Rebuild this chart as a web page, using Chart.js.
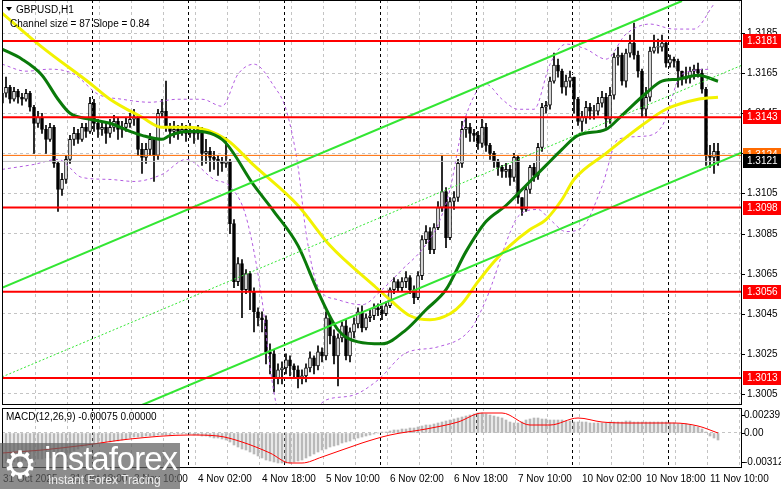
<!DOCTYPE html>
<html>
<head>
<meta charset="utf-8">
<script src="https://cdn.jsdelivr.net/npm/chart.js"></script>
<style>
  body { margin: 0; background: #fff; width: 781px; height: 489px; overflow: hidden; position: relative; font-family: "Liberation Sans", Arial, sans-serif; }
  #main { position: absolute; left: 0; top: 0; }
  #macd { position: absolute; left: 0; top: 406px; }
  #logo { position: absolute; left: 0; top: 443px; width: 180px; height: 46px; background: rgba(95,95,95,0.72); color: #fff; overflow: hidden; }
  #logo .gear { position: absolute; left: 3px; top: 0px; font-size: 38px; line-height: 44px; font-family: "DejaVu Sans"; }
  #logo .name { position: absolute; left: 44px; top: -3px; font-size: 33px; font-family: "Liberation Sans"; letter-spacing: -1px; }
  #logo .sub { position: absolute; left: 48px; top: 30px; font-size: 12px; color: #eee; }
</style>
</head>
<body>
<canvas id="main" width="781" height="406"></canvas>
<canvas id="macd" width="781" height="83"></canvas>
<div id="logo"><span class="gear">⚙</span><span class="name">instaforex</span><span class="sub">Instant Forex Tracing</span></div>
<script>
// GBPUSD H1, candle 0 = 31 Oct 01:00
const firstOpen = 1.3150;
const closes = [
  1.3155,1.3158,1.3152,1.3156,1.3153,1.3152,1.3155,1.3148,1.3140,1.3143,
  1.3137,1.3132,1.3138,1.3120,1.3107,1.3112,1.3122,1.3132,1.3135,1.3132,
  1.3138,1.3136,1.3150,1.3140,1.3137,1.3138,1.3135,1.3138,1.3141,1.3137,
  1.3138,1.3140,1.3142,1.3143,1.3127,1.3123,1.3127,1.3132,1.3124,1.3145,
  1.3146,1.3138,1.3136,1.3137,1.3136,1.3137,1.3135,1.3136,1.3135,1.3137,
  1.3125,1.3126,1.3123,1.3122,1.3121,1.3120,1.3121,1.3090,1.3061,1.3070,
  1.3057,1.3065,1.3056,1.3046,1.3043,1.3042,1.3026,1.3025,1.3013,1.3017,
  1.3018,1.3022,1.3019,1.3017,1.3013,1.3014,1.3018,1.3023,1.3019,1.3026,
  1.3024,1.3043,1.3034,1.3024,1.3033,1.3039,1.3024,1.3036,1.3040,1.3046,
  1.3038,1.3043,1.3044,1.3048,1.3047,1.3045,1.3049,1.3057,1.3061,1.3058,
  1.3061,1.3063,1.3057,1.3053,1.3064,1.3082,1.3086,1.3077,1.3088,1.3098,
  1.3106,1.3083,1.3101,1.3103,1.3120,1.3137,1.3138,1.3135,1.3134,1.3130,
  1.3138,1.3129,1.3125,1.3121,1.3118,1.3116,1.3117,1.3113,1.3123,1.3103,
  1.3097,1.3107,1.3118,1.3114,1.3128,1.3148,1.3149,1.3161,1.3169,1.3166,
  1.3158,1.3161,1.3163,1.3152,1.3141,1.3143,1.3148,1.3146,1.3146,1.3150,
  1.3153,1.3142,1.3154,1.3173,1.3174,1.3161,1.3175,1.3180,1.3174,1.3166,
  1.3147,1.3153,1.3176,1.3178,1.3178,1.3180,1.3170,1.3172,1.3171,1.3166,
  1.3162,1.3163,1.3166,1.3167,1.3165,1.3157,1.3124,1.3123,1.3126,1.3121
];
const highs = [
  1.3160,1.3163,1.3159,1.3158,1.3157,1.3155,1.3157,1.3156,1.3149,1.3146,
  1.3145,1.3139,1.3140,1.3139,1.3121,1.3115,1.3124,1.3134,1.3138,1.3137,
  1.3140,1.3140,1.3153,1.3152,1.3142,1.3141,1.3140,1.3142,1.3144,1.3143,
  1.3141,1.3143,1.3145,1.3147,1.3144,1.3130,1.3130,1.3135,1.3133,1.3147,
  1.3152,1.3161,1.3140,1.3141,1.3139,1.3140,1.3139,1.3140,1.3138,1.3139,
  1.3138,1.3132,1.3128,1.3126,1.3124,1.3123,1.3133,1.3122,1.3092,1.3073,
  1.3072,1.3067,1.3066,1.3058,1.3048,1.3046,1.3044,1.3030,1.3027,1.3020,
  1.3021,1.3025,1.3024,1.3020,1.3019,1.3017,1.3020,1.3026,1.3024,1.3029,
  1.3028,1.3046,1.3044,1.3037,1.3035,1.3041,1.3042,1.3038,1.3043,1.3048,
  1.3049,1.3045,1.3047,1.3050,1.3050,1.3049,1.3051,1.3058,1.3063,1.3062,
  1.3063,1.3066,1.3064,1.3059,1.3066,1.3084,1.3089,1.3088,1.3090,1.3101,
  1.3124,1.3108,1.3103,1.3106,1.3122,1.3141,1.3143,1.3140,1.3137,1.3136,
  1.3142,1.3140,1.3130,1.3126,1.3122,1.3119,1.3120,1.3119,1.3125,1.3124,
  1.3103,1.3109,1.3119,1.3120,1.3130,1.3150,1.3151,1.3163,1.3175,1.3172,
  1.3167,1.3164,1.3166,1.3163,1.3153,1.3146,1.3151,1.3150,1.3149,1.3153,
  1.3156,1.3155,1.3158,1.3175,1.3178,1.3175,1.3177,1.3184,1.3190,1.3176,
  1.3167,1.3158,1.3178,1.3184,1.3182,1.3184,1.3181,1.3174,1.3173,1.3172,
  1.3166,1.3168,1.3168,1.3169,1.3170,1.3167,1.3158,1.3129,1.3130,1.3130
];
const lows = [
  1.3148,1.3153,1.3150,1.3151,1.3150,1.3149,1.3151,1.3146,1.3125,1.3138,
  1.3135,1.3125,1.3131,1.3118,1.3096,1.3104,1.3110,1.3120,1.3129,1.3130,
  1.3131,1.3133,1.3135,1.3136,1.3133,1.3134,1.3130,1.3133,1.3136,1.3132,
  1.3133,1.3136,1.3138,1.3139,1.3124,1.3115,1.3120,1.3124,1.3111,1.3122,
  1.3143,1.3136,1.3130,1.3133,1.3132,1.3134,1.3131,1.3133,1.3130,1.3132,
  1.3119,1.3120,1.3116,1.3117,1.3114,1.3116,1.3118,1.3085,1.3058,1.3059,
  1.3043,1.3055,1.3047,1.3036,1.3039,1.3036,1.3020,1.3015,1.3006,1.3010,
  1.3010,1.3015,1.3014,1.3013,1.3008,1.3010,1.3011,1.3016,1.3015,1.3017,
  1.3021,1.3022,1.3030,1.3020,1.3009,1.3031,1.3022,1.3021,1.3033,1.3038,
  1.3036,1.3037,1.3041,1.3042,1.3044,1.3042,1.3044,1.3048,1.3055,1.3056,
  1.3056,1.3058,1.3055,1.3050,1.3052,1.3062,1.3080,1.3075,1.3075,1.3087,
  1.3096,1.3078,1.3082,1.3097,1.3101,1.3118,1.3133,1.3131,1.3131,1.3127,
  1.3128,1.3126,1.3122,1.3118,1.3114,1.3113,1.3113,1.3109,1.3111,1.3100,
  1.3094,1.3096,1.3105,1.3111,1.3112,1.3126,1.3145,1.3147,1.3160,1.3163,
  1.3155,1.3154,1.3158,1.3145,1.3139,1.3136,1.3140,1.3142,1.3142,1.3144,
  1.3148,1.3138,1.3140,1.3152,1.3169,1.3159,1.3158,1.3173,1.3172,1.3163,
  1.3143,1.3143,1.3151,1.3175,1.3175,1.3176,1.3168,1.3168,1.3168,1.3158,
  1.3159,1.3160,1.3160,1.3162,1.3163,1.3155,1.3119,1.3118,1.3115,1.3119
];

// moving averages (read at chosen candles)
const slowIdx = [0,10,22,27,35,40,47,56,63,74,82,93,97,102,107,112,115,119,123,127,132,136,140,143,151,160,166,174,179];
const slowVal = [1.3195,1.3178,1.3160,1.3152,1.3143,1.3138,1.3138,1.3132,1.3119,1.3099,1.3079,1.3059,1.3052,1.3044,1.3042,1.3045,1.3050,1.3061,1.3071,1.3079,1.3087,1.3092,1.3102,1.3112,1.3125,1.3139,1.3147,1.3152,1.3153];
const fastIdx = [0,5,10,14,17,22,27,32,35,40,42,47,55,63,68,74,79,84,89,95,101,106,111,116,121,126,131,136,140,144,151,155,161,165,169,174,179];
const fastVal = [1.3177,1.3172,1.3164,1.3152,1.3145,1.3142,1.3140,1.3136,1.3134,1.3132,1.3134,1.3136,1.3132,1.3109,1.3096,1.3079,1.3056,1.3037,1.3031,1.3030,1.3037,1.3047,1.3057,1.3076,1.3091,1.3099,1.3109,1.3119,1.3127,1.3134,1.3137,1.3144,1.3155,1.3161,1.3162,1.3164,1.3161];
const upIdx = [0,6,12,18,24,30,37,44,50,55,59,63,68,71,74,76,79,84,90,95,100,105,109,112,115,119,121,125,129,133,137,141,146,151,156,162,168,173,178];
const upVal = [1.31695,1.3166,1.3167,1.31645,1.31545,1.3152,1.31505,1.3152,1.3152,1.31485,1.31645,1.31695,1.31585,1.3147,1.31185,1.30855,1.30585,1.3052,1.30495,1.3057,1.3067,1.3077,1.30895,1.3107,1.3137,1.3157,1.31595,1.3152,1.3147,1.3147,1.31695,1.31795,1.3177,1.3172,1.31845,1.31895,1.3187,1.3187,1.31995];
const loIdx = [0,8,14,20,27,33,40,46,53,57,61,65,67,69,72,78,81,88,94,101,109,117,121,127,129,134,137,141,145,150,154,160,165,170,177];
const loVal = [1.3117,1.31195,1.3122,1.3113,1.3112,1.3111,1.31145,1.3122,1.3112,1.31085,1.30935,1.3052,1.30185,1.2997,1.2992,1.2997,1.3002,1.30045,1.3012,1.30255,1.30285,1.3037,1.3052,1.30855,1.30935,1.3097,1.3092,1.3086,1.3088,1.31085,1.3132,1.31335,1.31385,1.31645,1.3167];

// regression channel ends
const chanUpper = [[0,1.3058],[170,1.3201]];
const chanMid = [[0,1.30135],[185,1.3169]];
const chanLower = [[35,1.29995],[185,1.31255]];

const levels = [1.3181, 1.3143, 1.3098, 1.3056, 1.3013];
const bidLevel = 1.3124;
const lastPrice = 1.3121;
const yTicks = [1.3185,1.3165,1.3145,1.3125,1.3105,1.3085,1.3065,1.3045,1.3025,1.3005];

// MACD
const histVals = [
  -0.0030,-0.0030,-0.0030,-0.0029,-0.0029,-0.0028,-0.0028,-0.0027,-0.0027,-0.0026,
  -0.0026,-0.0025,-0.0025,-0.0024,-0.0024,-0.0023,-0.0022,-0.0020,-0.0018,-0.0016,
  -0.0014,-0.0013,-0.0012,-0.0011,-0.0010,-0.0010,-0.0009,-0.0009,-0.0008,-0.0008,
  -0.0007,-0.0006,-0.0005,-0.0004,-0.0004,-0.0004,-0.0003,-0.0003,-0.0003,-0.0002,
  -0.0002,-0.0002,-0.0002,-0.0001,-0.0001,-0.0001,-0.0001,-0.0001,-0.0002,-0.0002,
  -0.0003,-0.0003,-0.0004,-0.0005,-0.0005,-0.0006,-0.0007,-0.0009,-0.0012,-0.0014,
  -0.0016,-0.0017,-0.0019,-0.0021,-0.0023,-0.0025,-0.0027,-0.0028,-0.0029,-0.0030,
  -0.0030,-0.0030,-0.0030,-0.0029,-0.0028,-0.0027,-0.0025,-0.0023,-0.0021,-0.0019,
  -0.0017,-0.0016,-0.0014,-0.0013,-0.0012,-0.0010,-0.0009,-0.0008,-0.0006,-0.0005,
  -0.0004,-0.0003,-0.0002,-0.0001,0.0000,0.0001,0.0001,0.0002,0.0003,0.0003,
  0.0004,0.0004,0.0005,0.0005,0.0006,0.0007,0.0008,0.0008,0.0009,0.0010,
  0.0011,0.0012,0.0013,0.0014,0.0015,0.0016,0.0017,0.0018,0.0019,0.0020,
  0.0020,0.0019,0.0018,0.0017,0.0016,0.0015,0.0013,0.0011,0.0010,0.0010,
  0.0011,0.0013,0.0014,0.0015,0.0015,0.0014,0.0014,0.0013,0.0013,0.0013,
  0.0013,0.0012,0.0012,0.0011,0.0011,0.0011,0.0011,0.0010,0.0010,0.0010,
  0.0010,0.0010,0.0011,0.0011,0.0011,0.0011,0.0012,0.0012,0.0011,0.0011,
  0.0011,0.0011,0.0011,0.0011,0.0011,0.0011,0.0011,0.0010,0.0010,0.0009,
  0.0009,0.0009,0.0008,0.0007,0.0006,0.0004,0.0001,-0.0003,-0.0005,-0.0007
];
const sigIdx = [0,10,21,32,47,54,60,67,72,75,80,90,97,106,114,120,125,132,137,144,150,157,168,174,179];
const sigVal = [-0.0020,-0.0017,-0.0012,-0.0006,-0.0002,-0.0003,-0.0009,-0.0020,-0.0030,-0.0030,-0.0024,-0.0010,-0.0002,0.0004,0.0011,0.0020,0.0020,0.0008,0.0008,0.0015,0.0011,0.0010,0.0010,0.0007,0.0000];
const macdTicks = [0.00239, 0, -0.00312];
const macdTickText = ['0.00239', '0.00', '-0.00312'];
// MT4 pins the max/min labels to the panel edges
const macdLabelAt = [0.0018, 0, -0.0029];

const timeLabels = ['31 Oct 2025','31 Oct 18:00','3 Nov 10:00','4 Nov 02:00','4 Nov 18:00','5 Nov 10:00','6 Nov 02:00','6 Nov 18:00','7 Nov 10:00','10 Nov 02:00','10 Nov 18:00','11 Nov 10:00'];
const timeLabelIdx = [0,17,33,49,65,81,97,113,129,145,161,177];

// grid positions (candle units)
const dayLines = [22.5,46.5,70.5,94.5,118.5,142.5,166.5];
const gridLines = [];
for (let v = 8.25; v < 185; v += 8) gridLines.push(v);

const toXY = (idx, vals) => idx.map((x, k) => ({ x, y: vals[k] }));

function xScaleOpts() {
  return {
    type: 'linear', min: 0, max: 185, offset: false,
    ticks: { display: false, padding: 0 },
    grid: {
      offset: false,
      drawTicks: false,
      color: ctx => dayLines.includes(ctx.tick && ctx.tick.value) ? '#000' : '#c4c4c4',
      lineWidth: 1
    },
    border: { display: false, dash: [3, 3] },
    afterBuildTicks: s => { s.ticks = gridLines.concat(dayLines).map(v => ({ value: v })); },
    afterFit: s => { s.height = 0; }
  };
}

function yScaleOpts(min, max, ticks, gridColor) {
  return {
    position: 'right', min, max,
    afterFit: s => { s.width = 39; },
    afterBuildTicks: s => { s.ticks = ticks.map(v => ({ value: v })); },
    ticks: { display: false },
    grid: { color: gridColor, offset: false, drawTicks: false },
    border: { display: false, dash: [3, 3] }
  };
}

const frame = {
  id: 'frame',
  afterDatasetsDraw(chart) {
    const a = chart.chartArea, c = chart.ctx;
    c.save();
    c.strokeStyle = '#000'; c.lineWidth = 1;
    c.strokeRect(Math.round(a.left) + 0.5, Math.round(a.top) + 0.5, Math.round(a.width) - 1, Math.round(a.height) - 1);
    c.restore();
  }
};

// right-hand tick labels drawn from the y scale
function drawYLabels(chart, vals, texts, dx) {
  const c = chart.ctx, y = chart.scales.y, a = chart.chartArea;
  c.save();
  c.font = '10px Liberation Sans, Arial';
  c.fillStyle = '#000';
  c.strokeStyle = '#000';
  c.textBaseline = 'middle';
  c.textAlign = 'left';
  vals.forEach((v, k) => {
    const py = Math.round(y.getPixelForValue(v)) + 0.5;
    c.beginPath(); c.moveTo(a.right, py); c.lineTo(a.right + 3, py); c.stroke();
    c.fillText(texts[k], a.right + dx, py);
  });
  c.restore();
}

// ---------- main chart ----------
const opens = closes.map((c, i) => i === 0 ? firstOpen : closes[i - 1]);
const lineDs = (label, data, color, width, extra) => Object.assign({
  type: 'line', label, data, borderColor: color, borderWidth: width,
  pointRadius: 0, fill: false, tension: 0
}, extra || {});
const hLine = v => [{ x: -5, y: v }, { x: 190, y: v }];

const mainPlugin = {
  id: 'mainDeco',
  afterDraw(chart) {
    drawYLabels(chart, yTicks, yTicks.map(v => v.toFixed(4)), 5);
    const c = chart.ctx, y = chart.scales.y, a = chart.chartArea;
    c.save();
    c.font = '10px Liberation Sans, Arial';
    c.textBaseline = 'middle';
    const box = (v, bg, txt) => {
      const py = Math.round(y.getPixelForValue(v));
      c.fillStyle = bg;
      c.fillRect(a.right + 1, py - 7, 781 - a.right - 1, 14);
      c.fillStyle = '#fff';
      c.textAlign = 'left';
      c.fillText(txt, a.right + 5, py);
    };
    levels.forEach(v => box(v, '#ff0000', v.toFixed(4)));
    box(bidLevel, '#ff6a00', bidLevel.toFixed(4));
    box(lastPrice, '#000000', lastPrice.toFixed(4));
    // title
    c.fillStyle = '#000';
    c.textAlign = 'left';
    c.beginPath(); c.moveTo(6, 7); c.lineTo(12, 7); c.lineTo(9, 11); c.closePath(); c.fill();
    c.fillText('GBPUSD,H1', 16, 10);
    c.fillText('Channel size = 87 Slope = 0.84', 10, 24);
    c.restore();
  }
};

new Chart(document.getElementById('main'), {
  type: 'bar',
  data: {
    datasets: [
      { label: 'wick', data: closes.map((c, i) => ({ x: i, y: [lows[i], highs[i]] })),
        backgroundColor: '#000', barThickness: 1, grouped: false, order: 20 },
      { label: 'body', data: closes.map((c, i) => ({ x: i, y: [opens[i], c === opens[i] ? c + 0.00003 : c] })),
        backgroundColor: closes.map((c, i) => c >= opens[i] ? '#fff' : '#000'),
        borderColor: '#000', borderWidth: 1, borderSkipped: false, barThickness: 3, grouped: false, order: 19 },
      lineDs('upper band', toXY(upIdx, upVal), '#b25be0', 1, { borderDash: [3, 3], order: 18, cubicInterpolationMode: 'monotone' }),
      lineDs('lower band', toXY(loIdx, loVal), '#b25be0', 1, { borderDash: [3, 3], order: 18, cubicInterpolationMode: 'monotone' }),
      lineDs('1.3124', hLine(bidLevel), '#ff6a00', 1, { order: 17 }),
      lineDs('1.3121', hLine(lastPrice), '#bdbdbd', 1, { order: 17 }),
      lineDs('slow MA', toXY(slowIdx, slowVal), '#f2f200', 3, { order: 6, cubicInterpolationMode: 'monotone' }),
      lineDs('fast MA', toXY(fastIdx, fastVal), '#0a7a0a', 3, { order: 5, cubicInterpolationMode: 'monotone' }),
      lineDs('chan upper', chanUpper.map(p => ({ x: p[0], y: p[1] })), '#33e633', 2, { order: 4 }),
      lineDs('chan mid', chanMid.map(p => ({ x: p[0], y: p[1] })), '#33e633', 1, { borderDash: [2, 2], order: 4 }),
      lineDs('chan lower', chanLower.map(p => ({ x: p[0], y: p[1] })), '#33e633', 2, { order: 4 }),
      ...levels.map(v => lineDs(String(v), hLine(v), '#ff0000', 2, { order: 3 }))
    ]
  },
  options: {
    responsive: false, animation: false, devicePixelRatio: 1,
    layout: { padding: { left: 2, top: 0, right: 0, bottom: 1 } },
    plugins: { legend: { display: false }, tooltip: { enabled: false } },
    scales: {
      x: xScaleOpts(),
      y: yScaleOpts(1.29995, 1.32015, yTicks, '#c4c4c4')
    }
  },
  plugins: [frame, mainPlugin]
});

// ---------- MACD ----------
const macdPlugin = {
  id: 'macdDeco',
  afterDraw(chart) {
    drawYLabels(chart, macdLabelAt, macdTickText, 2);
    const c = chart.ctx, x = chart.scales.x, a = chart.chartArea;
    c.save();
    c.font = '10px Liberation Sans, Arial';
    c.fillStyle = '#000';
    c.textBaseline = 'middle';
    c.textAlign = 'left';
    c.fillText('MACD(12,26,9) -0.00075 0.00000', 6, a.top + 9);
    timeLabels.forEach((t, k) => {
      c.fillText(t, Math.max(3, x.getPixelForValue(timeLabelIdx[k])), a.bottom + 11);
    });
    c.restore();
  }
};

new Chart(document.getElementById('macd'), {
  type: 'bar',
  data: {
    datasets: [
      { label: 'hist', data: histVals.map((v, i) => ({ x: i, y: v })), backgroundColor: '#b9b9b9',
        barThickness: 2, grouped: false, order: 5 },
      lineDs('signal', toXY(sigIdx, sigVal), '#ff0000', 1, { order: 1, cubicInterpolationMode: 'monotone' })
    ]
  },
  options: {
    responsive: false, animation: false, devicePixelRatio: 1,
    layout: { padding: { left: 2, top: 2, right: 0, bottom: 21 } },
    plugins: { legend: { display: false }, tooltip: { enabled: false } },
    scales: {
      x: xScaleOpts(),
      y: yScaleOpts(-0.0035, 0.0025, [0], '#c4c4c4')
    }
  },
  plugins: [frame, macdPlugin]
});
</script>
</body>
</html>
